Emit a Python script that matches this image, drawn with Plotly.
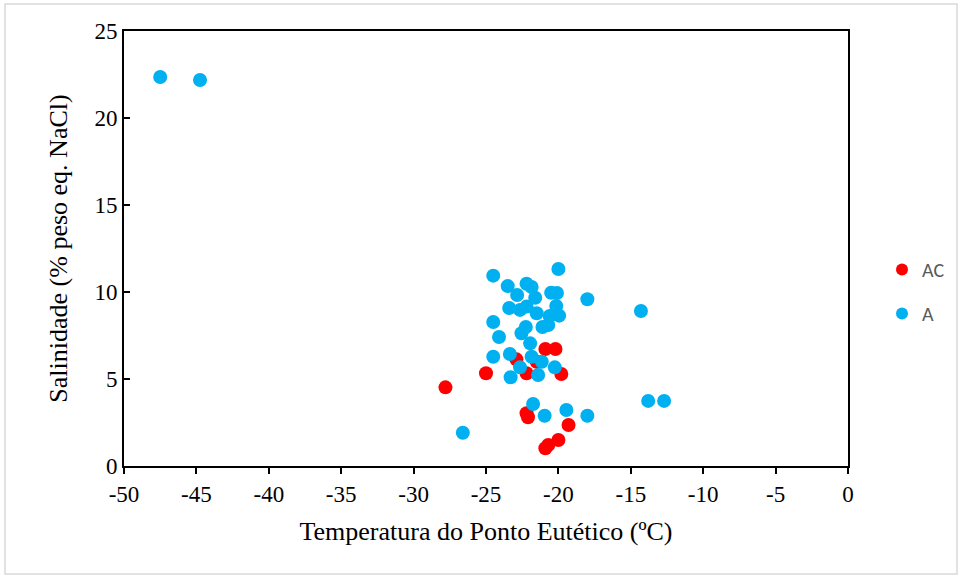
import plotly.graph_objects as go

# Eutectic temperature (ºC) and salinity (wt% NaCl eq.) per fluid-inclusion type
ac_temp = [-27.8, -25.0, -22.9, -22.2, -20.9, -20.2, -19.8, -21.5,
           -22.2, -22.1, -19.3, -20.0, -20.7, -20.9]
ac_sal = [4.52, 5.33, 6.13, 5.33, 6.72, 6.72, 5.29, 5.99,
          3.03, 2.80, 2.36, 1.49, 1.21, 1.02]

a_temp = [-47.5, -44.75, -24.5, -20.0, -23.5, -22.2, -21.85, -22.85, -21.6, -20.5,
          -20.1, -18.0, -14.3, -23.4, -22.65, -22.2, -21.5, -20.15, -19.95, -20.6,
          -24.5, -22.25, -22.55, -21.1, -20.7, -24.1, -21.95, -24.5, -23.35, -21.85,
          -21.15, -22.65, -20.25, -21.4, -23.3, -21.75, -20.95, -19.45, -18.0, -13.8,
          -12.7, -26.6]
a_sal = [22.36, 22.18, 10.94, 11.32, 10.34, 10.47, 10.29, 9.83, 9.67, 9.96,
         9.94, 9.58, 8.91, 9.08, 8.97, 9.16, 8.78, 9.20, 8.64, 8.62,
         8.28, 7.99, 7.63, 7.99, 8.10, 7.41, 7.05, 6.28, 6.44, 6.28,
         5.99, 5.67, 5.67, 5.23, 5.10, 3.56, 2.89, 3.22, 2.89, 3.74,
         3.74, 1.91]

x_ticks = [-50, -45, -40, -35, -30, -25, -20, -15, -10, -5, 0]
y_ticks = [0, 5, 10, 15, 20, 25]

serif = "Liberation Serif, Times New Roman, serif"

L, R, T, B = 124, 112, 31, 110
W, H = 960, 576
pw, ph = W - L - R, H - T - B

fig = go.Figure()
fig.add_trace(go.Scatter(
    x=ac_temp, y=ac_sal, mode="markers", name="AC", legendgroup="ac",
    marker=dict(color="#FF0000", size=14, line=dict(width=0)),
))
fig.add_trace(go.Scatter(
    x=a_temp, y=a_sal, mode="markers", name="A", legendgroup="a",
    marker=dict(color="#00B0F0", size=14, line=dict(width=0)),
))

fig.update_layout(
    width=W, height=H,
    margin=dict(l=L, r=R, t=T, b=B, autoexpand=False),
    paper_bgcolor="white", plot_bgcolor="white",
    showlegend=True,
    legend=dict(
        xref="container", yref="container",
        x=882 / W, y=1 - 250 / H, xanchor="left", yanchor="top",
        traceorder="grouped", tracegroupgap=15,
        font=dict(family="Carlito, Liberation Sans, Arial, sans-serif", size=20, color="#595959"),
        itemsizing="constant", bgcolor="rgba(0,0,0,0)",
    ),
    xaxis=dict(
        range=[-50, 0], tickvals=x_ticks, ticktext=[str(v) for v in x_ticks],
        showgrid=False, zeroline=False,
        showline=True, linecolor="black", linewidth=2, mirror=True,
        ticks="outside", ticklen=6, tickwidth=1.5, tickcolor="black",
        tickfont=dict(family=serif, size=23, color="black"),
        title=dict(text="Temperatura do Ponto Eutético (ºC)",
                   font=dict(family=serif, size=26, color="black"), standoff=16),
    ),
    yaxis=dict(
        range=[0, 25], tickvals=y_ticks, ticktext=[str(v) for v in y_ticks],
        showgrid=False, zeroline=False,
        showline=True, linecolor="black", linewidth=2, mirror=True,
        ticks="inside", ticklen=6, tickwidth=1.5, tickcolor="black",
        tickfont=dict(family=serif, size=23, color="black"),
        title=dict(text="Salinidade (% peso eq. NaCl)",
                   font=dict(family=serif, size=26, color="black"), standoff=19),
    ),
    shapes=[dict(
        type="rect", xref="paper", yref="paper",
        x0=(5 - L) / pw, x1=(957 - L) / pw,
        y0=1 - (574 - T) / ph, y1=1 + (T - 4) / ph,
        line=dict(color="#D9D9D9", width=1.5), fillcolor="rgba(0,0,0,0)", layer="below",
    )],
)

fig.write_html("out.html")
